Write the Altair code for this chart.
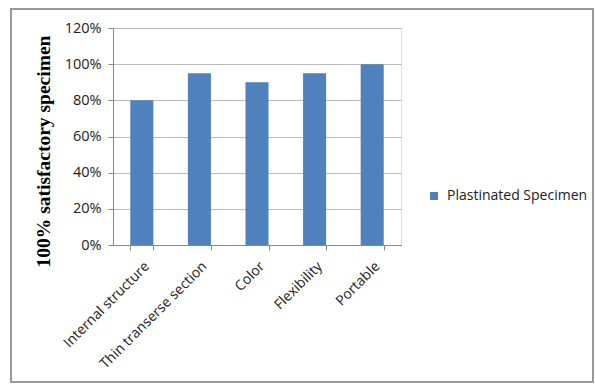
import altair as alt
import pandas as pd

categories = ["Internal structure", "Thin transerse section", "Color", "Flexibility", "Portable"]
values = [0.80, 0.95, 0.90, 0.95, 1.00]
series = ["Plastinated Specimen"] * 5

df = pd.DataFrame({"category": categories, "value": values, "series": series})

FONT = "Open Sans"

bars = alt.Chart(df).mark_bar(color="#4F81BD").encode(
    x=alt.X("category:N", sort=categories, title=None,
            scale=alt.Scale(paddingInner=0.6, paddingOuter=0.3),
            axis=alt.Axis(labelAngle=-45, labelFont=FONT, labelFontSize=14,
                          labelColor="#222222", tickBand="extent", tickSize=5,
                          domainColor="#888888", tickColor="#888888", labelPadding=9)),
    y=alt.Y("value:Q", title="100% satisfactory specimen",
            scale=alt.Scale(domain=[0, 1.2], nice=False),
            axis=alt.Axis(format="%", values=[0, 0.2, 0.4, 0.6, 0.8, 1.0, 1.2],
                          labelFont=FONT, labelFontSize=14.5, labelColor="#222222",
                          tickSize=5, labelPadding=7, domainColor="#888888",
                          tickColor="#888888", gridColor="#BBBBBB",
                          titleFont="Liberation Serif", titleFontSize=19.5,
                          titleFontWeight="bold", titleColor="#000000",
                          titleAngle=270, titleAlign="center", titleBaseline="middle",
                          titleX=-70, titleY=123)),
    color=alt.Color("series:N", scale=alt.Scale(range=["#4F81BD"]),
                    legend=alt.Legend(title=None, orient="none", legendX=314, legendY=161,
                                      symbolType="square", symbolSize=64,
                                      labelFont=FONT, labelFontSize=14,
                                      labelColor="#222222", padding=0, labelOffset=6)),
)

border = alt.Chart(df).mark_rect(fill=None, stroke="#999999", strokeWidth=2).encode(
    x=alt.value(-102), x2=alt.value(480), y=alt.value(-19), y2=alt.value(354)
)

chart = alt.layer(border, bars).properties(
    width=288, height=217,
    autosize=alt.AutoSizeParams(type="none"),
    padding={"left": 113, "top": 28, "right": 194, "bottom": 139},
).configure_view(stroke=None).configure(background="white")

chart.save("out.html", embed_options={"renderer": "svg", "actions": False})
